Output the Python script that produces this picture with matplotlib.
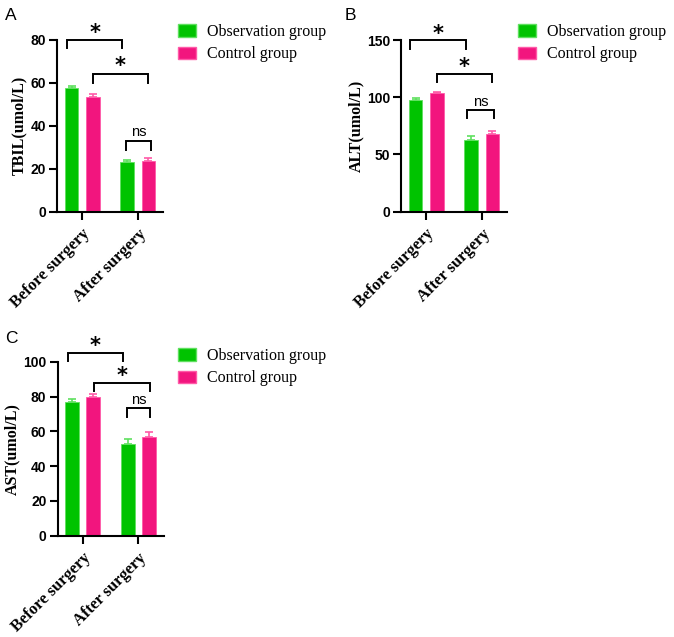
import matplotlib
matplotlib.use("Agg")
import matplotlib.pyplot as plt
from matplotlib.patches import Patch
import numpy as np

# ---- data ----
categories = ["Before surgery", "After surgery"]
groups = ["Observation group", "Control group"]

tbil_obs = [57.3, 23.0]
tbil_obs_err = [1.2, 1.0]
tbil_ctrl = [53.1, 23.7]
tbil_ctrl_err = [1.5, 1.2]

alt_obs = [97.5, 63.0]
alt_obs_err = [1.6, 2.8]
alt_ctrl = [103.5, 67.8]
alt_ctrl_err = [1.5, 3.0]

ast_obs = [77.0, 52.7]
ast_obs_err = [1.5, 3.0]
ast_ctrl = [80.0, 56.6]
ast_ctrl_err = [1.5, 3.0]

ylabels = ["TBIL(umol/L)", "ALT(umol/L)", "AST(umol/L)"]
yticks_list = [[0, 20, 40, 60, 80], [0, 50, 100, 150], [0, 20, 40, 60, 80, 100]]
ylims = [80, 150, 100]
panel_letters = ["A", "B", "C"]

# significance brackets: (x1, x2, y_top, y_leg, label, label_y)
sig_A = [(-0.27, 0.72, 79.8, 75.9, "*", 83.0),
         (0.19, 1.18, 64.0, 59.6, "*", 67.5),
         (0.78, 1.24, 32.8, 28.7, "ns", 37.0)]
sig_B = [(-0.28, 0.72, 150.0, 142.0, "*", 155.5),
         (0.19, 1.18, 120.0, 113.6, "*", 126.0),
         (0.74, 1.22, 88.8, 81.6, "ns", 96.0)]
sig_C = [(-0.27, 0.72, 104.8, 100.4, "*", 109.0),
         (0.21, 1.20, 87.6, 83.2, "*", 92.0),
         (0.80, 1.20, 73.2, 68.4, "ns", 78.0)]

GREEN = "#00C300"
PINK = "#F2157E"
GREEN_L = "#5FE05F"
PINK_L = "#FF5AA8"

fig = plt.figure(figsize=(6.74, 6.37), dpi=100)

W, H = 674.0, 637.0
def ax_rect(left, top, bottom, width=106):
    return [left / W, 1 - bottom / H, width / W, (bottom - top) / H]

rects = [ax_rect(57, 39.5, 211.7), ax_rect(401, 40, 211.7), ax_rect(57.5, 361.7, 535.7)]
datasets = [
    (tbil_obs, tbil_obs_err, tbil_ctrl, tbil_ctrl_err, sig_A),
    (alt_obs, alt_obs_err, alt_ctrl, alt_ctrl_err, sig_B),
    (ast_obs, ast_obs_err, ast_ctrl, ast_ctrl_err, sig_C),
]
letter_pos = [(5, 20), (345, 20), (5, 343)]
legend_pos = [(178, 24), (518, 24), (178, 348)]

x = np.arange(len(categories))
off = 0.19
bw = 0.25

for i, (rect, (obs, obs_e, ctrl, ctrl_e, sig)) in enumerate(zip(rects, datasets)):
    ax = fig.add_axes(rect)
    ax.bar(x - off, obs, bw, color=GREEN, edgecolor=GREEN_L, linewidth=0.6, zorder=2)
    ax.bar(x + off, ctrl, bw, color=PINK, edgecolor=PINK_L, linewidth=0.6, zorder=2)
    ax.errorbar(x - off, obs, yerr=[np.zeros(len(obs)), obs_e], fmt="none",
                ecolor=GREEN_L, elinewidth=1.2, capsize=3.2, capthick=1.2, zorder=3)
    ax.errorbar(x + off, ctrl, yerr=[np.zeros(len(ctrl)), ctrl_e], fmt="none",
                ecolor=PINK_L, elinewidth=1.2, capsize=3.2, capthick=1.2, zorder=3)

    ax.set_xlim(-0.45, 1.45)
    ax.set_ylim(0, ylims[i])
    ax.set_yticks(yticks_list[i])
    ax.set_yticklabels([str(t) for t in yticks_list[i]], fontsize=10,
                       fontweight="bold", family="Liberation Sans")
    ax.set_xticks(x)
    ax.set_xticklabels(categories, rotation=45, ha="right", rotation_mode="anchor",
                       fontsize=12, fontweight="bold", family="Liberation Serif")
    ax.set_ylabel(ylabels[i], fontsize=11.5, fontweight="bold", family="Liberation Serif",
                  labelpad=2)
    for s in ["top", "right"]:
        ax.spines[s].set_visible(False)
    for s in ["left", "bottom"]:
        ax.spines[s].set_linewidth(1.5)
    ax.tick_params(axis="both", direction="out", length=6, width=1.5, pad=2)
    ax.tick_params(axis="x", pad=4)

    for (x1, x2, yt, yl, lab, ly) in sig:
        ax.plot([x1, x1, x2, x2], [yl, yt, yt, yl], color="black", lw=1.4,
                clip_on=False, zorder=4, solid_joinstyle="miter")
        if lab == "*":
            ax.text((x1 + x2) / 2, ly, "*", ha="center", va="center", fontsize=15,
                    fontweight="bold", family="DejaVu Sans", clip_on=False)
        else:
            ax.text((x1 + x2) / 2, ly, lab, ha="center", va="center", fontsize=10.5,
                    family="Liberation Sans", clip_on=False)

    lx, ly_ = letter_pos[i]
    fig.text(lx / W, 1 - ly_ / H, panel_letters[i], fontsize=12.5,
             family="Liberation Sans", ha="left", va="baseline")

    handles = [Patch(facecolor=GREEN, edgecolor=GREEN_L), Patch(facecolor=PINK, edgecolor=PINK_L)]
    gx, gy = legend_pos[i]
    fig.legend(handles, groups, loc="upper left", bbox_to_anchor=(gx / W, 1 - gy / H),
               frameon=False, prop={"family": "Liberation Serif", "size": 11.5},
               handlelength=1.1, handleheight=0.8, handletextpad=0.7,
               labelspacing=0.4, borderpad=0, borderaxespad=0)

fig.savefig("out.png", dpi=100)
